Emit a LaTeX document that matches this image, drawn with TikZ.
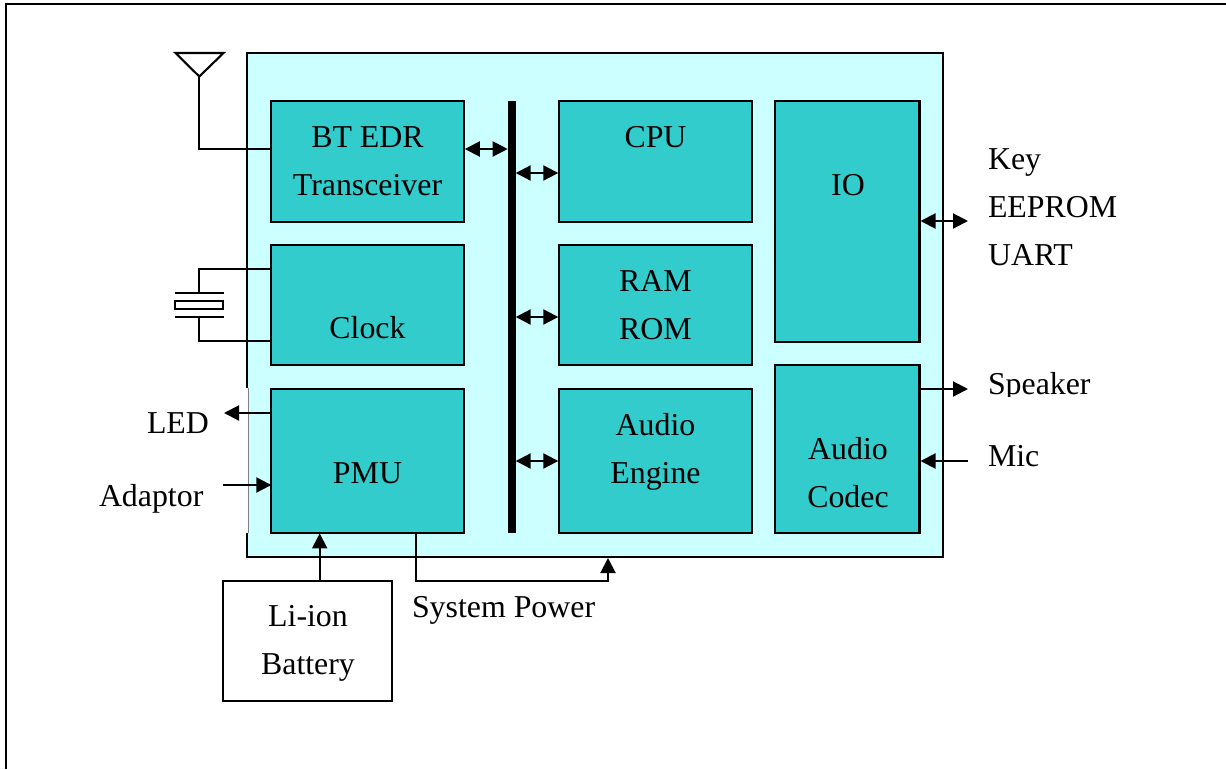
\documentclass[tikz,border=0pt]{standalone}
\usepackage{fontspec}
\setmainfont{Liberation Serif}
\usetikzlibrary{arrows.meta}
\definecolor{pale}{HTML}{CCFFFF}
\definecolor{teal2}{HTML}{33CCCC}
\tikzset{
  x=1pt,y=-1pt,
  every node/.style={font=\fontsize{31.85}{48}\selectfont,inner sep=0pt,outer sep=0pt},
  blockbox/.style={draw=black,line width=2.1pt,fill=teal2,anchor=north west,align=center},
  plainbox/.style={draw=black,line width=2.1pt,fill=white,anchor=north west,align=center},
  wire/.style={draw=black,line width=2.1pt},
  arr/.style={wire,-{Triangle[length=15pt,width=15pt]}},
  barr/.style={wire,{Triangle[length=15pt,width=15pt]}-{Triangle[length=15pt,width=15pt]}},
  lab/.style={anchor=base west},
  txt/.style={anchor=base},
}
\begin{document}
\begin{tikzpicture}
\useasboundingbox (0,0) rectangle (1226,769);
% frame
\draw[line width=2.4pt] (6,769) -- (6,4) -- (1226,4);
% main panel
\node[draw=black,line width=2.1pt,fill=pale,minimum width=696pt,minimum height=504pt,anchor=north west] (main) at (247.3,53.3) {};
\fill[white] (244,387.5) rectangle (247.7,533);
\draw[gray,line width=.7pt] (248,387.5) -- (248,533);
% blocks
\node[blockbox,minimum width=192.5pt,minimum height=120.4pt] (bt) at (271.3,101.3) {};
\node[txt] at (367.5,147) {BT EDR};
\node[txt] at (367.5,195) {Transceiver};
\node[blockbox,minimum width=192.5pt,minimum height=120.4pt] (clk) at (271.3,245) {};
\node[txt] at (367.5,338) {Clock};
\node[blockbox,minimum width=192.5pt,minimum height=144.4pt] (pmu) at (271.3,389) {};
\node[txt] at (367.5,483) {PMU};
\node[blockbox,minimum width=192.5pt,minimum height=120.4pt] (cpu) at (559.3,101.3) {};
\node[txt] at (655.5,147) {CPU};
\node[blockbox,minimum width=192.5pt,minimum height=120.4pt] (ram) at (559.3,245) {};
\node[txt] at (655.5,291) {RAM};
\node[txt] at (655.5,339) {ROM};
\node[blockbox,minimum width=192.5pt,minimum height=144.4pt] (eng) at (559.3,389) {};
\node[txt] at (655.5,435) {Audio};
\node[txt] at (655.5,483) {Engine};
\node[blockbox,minimum width=144.5pt,minimum height=240.4pt] (io) at (775,101.3) {};
\node[txt] at (848,195) {IO};
\node[blockbox,minimum width=144.5pt,minimum height=168.4pt] (codec) at (775,365) {};
\node[txt] at (848,459) {Audio};
\node[txt] at (848,507) {Codec};
% bus
\node[fill=black,minimum width=8pt,minimum height=432pt,anchor=north west] (bus) at (507.7,101) {};
% bus arrows
\draw[barr,shorten <=1pt] (bt.east |- 0,149) -- (bus.west |- 0,149);
\draw[barr,shorten >=1pt] (bus.east |- 0,173) -- (cpu.west |- 0,173);
\draw[barr,shorten >=1pt] (bus.east |- 0,317) -- (ram.west |- 0,317);
\draw[barr,shorten >=1pt] (bus.east |- 0,461) -- (eng.west |- 0,461);
% antenna
\coordinate (anttip) at (199.3,76.5);
\draw[wire] (175.5,53) -- (223.5,53) -- (anttip) -- cycle;
\draw[wire] (anttip) |- (bt.west |- 0,148.7);
% crystal
\node[draw=black,line width=2.1pt,fill=white,minimum width=48pt,minimum height=8pt] (xtal) at (199.3,305) {};
\coordinate (pa) at (199.3,293);
\coordinate (pb) at (199.3,317);
\draw[wire] (175,293) -- (224,293);
\draw[wire] (175,317) -- (224,317);
\draw[wire] (pa) |- (clk.west |- 0,269);
\draw[wire] (pb) |- (clk.west |- 0,341);
% PMU connections
\coordinate (ledend) at (224,413);
\coordinate (adpstart) at (222.7,485);
\draw[arr] (pmu.west |- 0,413) -- (ledend);
\draw[arr] (adpstart) -- (pmu.west |- 0,485);
\node[plainbox,minimum width=168.4pt,minimum height=120.3pt] (bat) at (223.3,580.7) {};
\node[txt] at (308,626) {Li-ion};
\node[txt] at (308,674) {Battery};
\draw[arr] (bat.north -| 319.7,0) -- (pmu.south -| 319.7,0);
\coordinate (pwrend) at (608,558);
\draw[arr] (pmu.south -| 415.7,0) |- (608,580.7) -- (pwrend);
% outer labels
\node[lab] (led) at (147,433) {LED};
\node[lab] (adp) at (99,506) {Adaptor};
\node[lab] (sysp) at (412,617) {System Power};
\node[lab] (key) at (988,169) {Key};
\node[lab] (eep) at (988,217) {EEPROM};
\node[lab] (uart) at (988,265) {UART};
\node[lab] (spk) at (988,394.5) {Speaker};
\fill[white] (985,396.5) rectangle (1100,410);
\node[lab] (mic) at (988,466) {Mic};
\coordinate (ioend) at (968,221);
\coordinate (spkend) at (968,389);
\coordinate (micstart) at (968,461);
\draw[barr,shorten <=1pt] (io.east |- 0,221) -- (ioend);
\draw[arr] (codec.east |- 0,389) -- (spkend);
\draw[arr,shorten >=1pt] (micstart) -- (codec.east |- 0,461);
\end{tikzpicture}
\end{document}
